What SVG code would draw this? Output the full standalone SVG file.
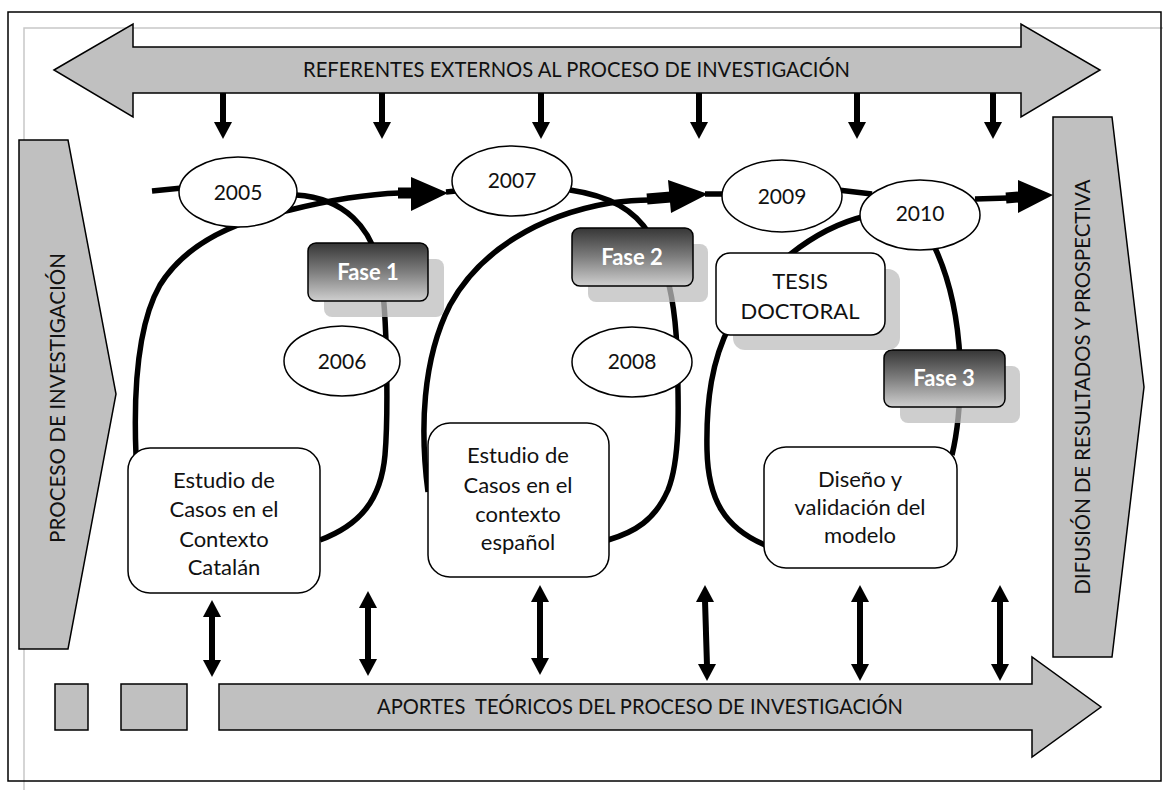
<svg xmlns="http://www.w3.org/2000/svg" width="1163" height="790" viewBox="0 0 1163 790">
  <defs>
    <linearGradient id="faseFill" x1="0" y1="0" x2="0" y2="1">
      <stop offset="0" stop-color="#363636"/>
      <stop offset="0.5" stop-color="#7e7e7e"/>
      <stop offset="1" stop-color="#cfcfcf"/>
    </linearGradient>
  </defs>
  <style>
    .frame { fill: none; stroke: #000; stroke-width: 1.5; }
    .inner { fill: none; stroke: #c8c8c8; stroke-width: 1.5; }
    .band { fill: #c0c0c0; stroke: #000; stroke-width: 1.5; stroke-linejoin: miter; }
    .band-text { font-family: Lato, "Open Sans", "Liberation Sans", sans-serif; font-size: 22px; fill: #111; }
    .flow { fill: none; stroke: #000; stroke-width: 5.5; stroke-linecap: butt; }
    .thick { fill: none; stroke: #000; stroke-width: 11; }
    .head { fill: #000; stroke: none; }
    .shaft { fill: none; stroke: #000; stroke-width: 6; }
    .year { fill: #fff; stroke: #000; stroke-width: 1.5; }
    .year-text { font-family: Lato, "Open Sans", "Liberation Sans", sans-serif; font-size: 21px; fill: #111; text-anchor: middle; }
    .box { fill: #fff; stroke: #000; stroke-width: 1.5; }
    .box-text { font-family: Lato, "Open Sans", "Liberation Sans", sans-serif; font-size: 22px; fill: #111; text-anchor: middle; }
    .shadow { fill: #bdbdbd; opacity: 0.75; }
    .fase { fill: url(#faseFill); stroke: #000; stroke-width: 1.5; }
    .fase-text { font-family: Lato, "Open Sans", "Liberation Sans", sans-serif; font-size: 22px; font-weight: bold; fill: #fff; text-anchor: middle; }
  </style>

  <rect width="1163" height="790" fill="#fff"/>

  <!-- page frame -->
  <g id="frame">
    <polyline class="inner" points="24,790 24,28 1163,28"/>
    <rect class="frame" x="8" y="12" width="1153" height="769"/>
  </g>

  <!-- flow lines, arrowheads and link arrows -->
  <g id="connectors">
    <!-- main thread -->
    <path class="flow" d="M152,191 L182,188"/>
    <!-- loop 1 -->
    <path class="flow" d="M296,195 C345,198 372,228 380,270 C388,315 388,420 385,455 C381,500 360,525 320,540"/>
    <path class="flow" d="M136,455 C133,380 140,320 160,285 C185,245 230,222 290,210 C330,200 370,194 400,193"/>
    <line class="thick" x1="398" y1="193" x2="412" y2="193"/>
    <polygon class="head" points="411,177 411,211 448,193"/>
    <line class="flow" x1="446" y1="192" x2="456" y2="191"/>
    <!-- loop 2 -->
    <path class="flow" d="M570,190 C610,196 635,210 650,235 C665,260 675,300 677,350 C679,410 680,460 668,490 C655,520 635,532 608,540"/>
    <path class="flow" d="M428,492 C420,430 422,360 450,305 C480,250 540,215 610,203 C625,201 640,200 650,200"/>
    <line class="thick" x1="647" y1="199" x2="671" y2="197"/>
    <polygon class="head" points="668,180 671,213 708,194"/>
    <line class="flow" x1="705" y1="194" x2="725" y2="194"/>
    <!-- loop 3 -->
    <path class="flow" d="M838,190 L872,194"/>
    <path class="flow" d="M866,216 C815,228 760,270 730,325 C712,360 706,400 707,450 C708,500 725,528 765,545"/>
    <path class="flow" d="M935,248 C950,280 958,320 960,360 C961,400 958,430 952,455"/>
    <line class="flow" x1="975" y1="199" x2="1008" y2="198"/>
    <line class="thick" x1="1006" y1="198" x2="1019" y2="197"/>
    <polygon class="head" points="1018,180 1018,213 1053,195"/>

    <!-- links from the upper band -->
    <g>
      <line class="shaft" x1="223" y1="93" x2="223" y2="124"/>
      <polygon class="head" points="214,122 232,122 223,139"/>
      <line class="shaft" x1="382" y1="93" x2="382" y2="124"/>
      <polygon class="head" points="373,122 391,122 382,139"/>
      <line class="shaft" x1="541" y1="93" x2="541" y2="124"/>
      <polygon class="head" points="532,122 550,122 541,139"/>
      <line class="shaft" x1="699" y1="93" x2="699" y2="124"/>
      <polygon class="head" points="690,122 708,122 699,139"/>
      <line class="shaft" x1="857" y1="93" x2="857" y2="124"/>
      <polygon class="head" points="848,122 866,122 857,139"/>
      <line class="shaft" x1="993" y1="93" x2="993" y2="124"/>
      <polygon class="head" points="984,122 1002,122 993,139"/>
    </g>

    <!-- two-way links to the lower band -->
    <g>
      <line class="shaft" x1="212" y1="615" x2="212" y2="662"/>
      <polygon class="head" points="212,600 203,617 221,617"/>
      <polygon class="head" points="212,677 203,660 221,660"/>
      <line class="shaft" x1="368" y1="606" x2="368" y2="661"/>
      <polygon class="head" points="368,591 359,608 377,608"/>
      <polygon class="head" points="368,676 359,659 377,659"/>
      <line class="shaft" x1="540" y1="600" x2="540" y2="660"/>
      <polygon class="head" points="540,585 531,602 549,602"/>
      <polygon class="head" points="540,675 531,658 549,658"/>
      <line class="shaft" x1="705" y1="600" x2="707" y2="666"/>
      <polygon class="head" points="705,585 696,602 714,602"/>
      <polygon class="head" points="707,681 698,664 716,664"/>
      <line class="shaft" x1="860" y1="600" x2="860" y2="666"/>
      <polygon class="head" points="860,585 851,602 869,602"/>
      <polygon class="head" points="860,681 851,664 869,664"/>
      <line class="shaft" x1="1000" y1="600" x2="1000" y2="666"/>
      <polygon class="head" points="1000,585 991,602 1009,602"/>
      <polygon class="head" points="1000,681 991,664 1009,664"/>
    </g>
  </g>

  <!-- bands -->
  <g id="referentes">
    <polygon class="band" points="54,70 133,24 133,47 1021,47 1021,24 1100,70 1021,117 1021,93 133,93 133,117"/>
    <text class="band-text" x="303" y="77" textLength="547" lengthAdjust="spacingAndGlyphs">REFERENTES EXTERNOS AL PROCESO DE INVESTIGACIÓN</text>
  </g>

  <g id="proceso">
    <polygon class="band" points="19,140 68,140 116,394 68,649 19,649"/>
    <text class="band-text" transform="translate(65,398) rotate(-90)" text-anchor="middle" textLength="290" lengthAdjust="spacingAndGlyphs">PROCESO DE INVESTIGACIÓN</text>
  </g>

  <g id="difusion">
    <polygon class="band" points="1053,117 1112,117 1144,387 1112,657 1053,657"/>
    <text class="band-text" transform="translate(1090,387) rotate(-90)" text-anchor="middle" textLength="415" lengthAdjust="spacingAndGlyphs">DIFUSIÓN DE RESULTADOS Y PROSPECTIVA</text>
  </g>

  <g id="aportes">
    <rect class="band" x="55" y="684" width="33" height="46"/>
    <rect class="band" x="121" y="684" width="66" height="46"/>
    <polygon class="band" points="219,684 1032,684 1032,657 1101,707 1032,757 1032,730 219,730"/>
    <text class="band-text" x="377" y="714" textLength="526" lengthAdjust="spacingAndGlyphs" xml:space="preserve">APORTES  TEÓRICOS DEL PROCESO DE INVESTIGACIÓN</text>
  </g>

  <!-- years -->
  <g id="y2005">
    <ellipse class="year" cx="238" cy="192" rx="59" ry="35"/>
    <text class="year-text" x="238" y="200">2005</text>
  </g>
  <g id="y2006">
    <ellipse class="year" cx="342" cy="361" rx="58" ry="35"/>
    <text class="year-text" x="342" y="369">2006</text>
  </g>
  <g id="y2007">
    <ellipse class="year" cx="512" cy="181" rx="60" ry="35"/>
    <text class="year-text" x="512" y="188">2007</text>
  </g>
  <g id="y2008">
    <ellipse class="year" cx="632" cy="362" rx="60" ry="35"/>
    <text class="year-text" x="632" y="369">2008</text>
  </g>
  <g id="y2009">
    <ellipse class="year" cx="782" cy="196" rx="60" ry="36"/>
    <text class="year-text" x="782" y="204">2009</text>
  </g>
  <g id="y2010">
    <ellipse class="year" cx="920" cy="215" rx="60" ry="35"/>
    <text class="year-text" x="920" y="221">2010</text>
  </g>

  <!-- phases -->
  <g id="fase1">
    <rect class="shadow" x="324" y="259" width="120" height="58" rx="8"/>
    <rect class="fase" x="308" y="243" width="120" height="58" rx="8"/>
    <text class="fase-text" x="368" y="280">Fase 1</text>
  </g>
  <g id="fase2">
    <rect class="shadow" x="588" y="244" width="120" height="58" rx="8"/>
    <rect class="fase" x="572" y="228" width="121" height="58" rx="8"/>
    <text class="fase-text" x="632" y="265">Fase 2</text>
  </g>
  <g id="fase3">
    <rect class="shadow" x="900" y="366" width="120" height="57" rx="8"/>
    <rect class="fase" x="884" y="350" width="121" height="57" rx="8"/>
    <text class="fase-text" x="944" y="386">Fase 3</text>
  </g>

  <!-- thesis -->
  <g id="tesis">
    <rect class="shadow" x="733" y="269" width="167" height="81" rx="12"/>
    <rect class="box" x="716" y="253" width="169" height="82" rx="14"/>
    <text class="box-text" x="800" y="289">TESIS</text>
    <text class="box-text" x="800" y="319">DOCTORAL</text>
  </g>

  <!-- studies -->
  <g id="estudio-catalan">
    <rect class="box" x="128" y="448" width="192" height="145" rx="22"/>
    <text class="box-text" x="224" y="488">Estudio de</text>
    <text class="box-text" x="224" y="517">Casos en el</text>
    <text class="box-text" x="224" y="547">Contexto</text>
    <text class="box-text" x="224" y="575">Catalán</text>
  </g>
  <g id="estudio-espanol">
    <rect class="box" x="428" y="423" width="181" height="154" rx="22"/>
    <text class="box-text" x="518" y="463">Estudio de</text>
    <text class="box-text" x="518" y="493">Casos en el</text>
    <text class="box-text" x="518" y="522">contexto</text>
    <text class="box-text" x="518" y="550">español</text>
  </g>
  <g id="modelo">
    <rect class="box" x="764" y="447" width="193" height="121" rx="22"/>
    <text class="box-text" x="860" y="487">Diseño y</text>
    <text class="box-text" x="860" y="515">validación del</text>
    <text class="box-text" x="860" y="543">modelo</text>
  </g>
</svg>
